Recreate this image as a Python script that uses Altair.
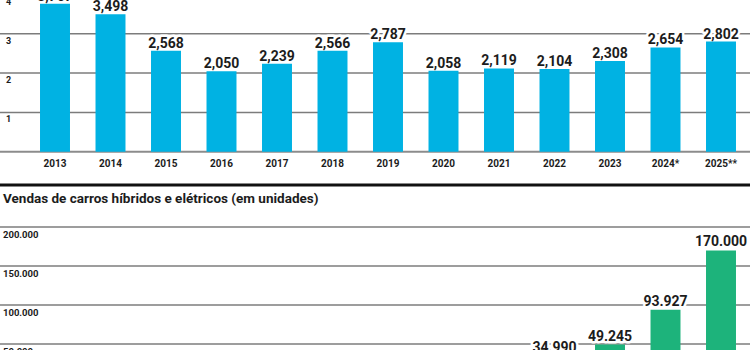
import altair as alt
import pandas as pd

# ---- data ----
years_top = ["2013", "2014", "2015", "2016", "2017", "2018", "2019",
             "2020", "2021", "2022", "2023", "2024*", "2025**"]
sales_top = [3.767, 3.498, 2.568, 2.050, 2.239, 2.566, 2.787,
             2.058, 2.119, 2.104, 2.308, 2.654, 2.802]
ticks_top = [1, 2, 3, 4]

years_bottom = ["2012", "2013", "2014", "2015", "2016", "2017", "2018",
                "2019", "2020", "2021", "2022", "2023", "2024"]
sales_bottom = [117, 491, 855, 846, 1091, 3296, 3970,
                11858, 19745, 34990, 49245, 93927, 170000]
ticks_bottom = [50000, 100000, 150000, 200000]

title_bottom = "Vendas de carros híbridos e elétricos (em unidades)"

# ---- tables ----
top_df = pd.DataFrame({
    "ano": years_top,
    "v": sales_top,
    "lbl": [f"{v:.3f}".replace(".", ",") for v in sales_top],
})
top_ticks = pd.DataFrame({"v": ticks_top, "lbl": [str(t) for t in ticks_top]})
bot_df = pd.DataFrame({
    "ano": years_bottom,
    "v": sales_bottom,
    "lbl": [f"{v:,}".replace(",", ".") for v in sales_bottom],
})
bot_ticks = pd.DataFrame({"v": ticks_bottom,
                          "lbl": [f"{t:,}".replace(",", ".") for t in ticks_bottom]})

NUM_FONT = "Roboto"
TITLE_FONT = "Roboto"
TXT = "#1c1c1c"
GRID = "#7c7c7c"

x_top = alt.X("ano:N", sort=years_top, axis=None,
              scale=alt.Scale(domain=years_top, range=[27.25, 748.75],
                              paddingInner=0.46, paddingOuter=0.23))
y_top_scale = alt.Scale(domain=[0, 4], range=[151.7, -5.5], nice=False, zero=True)

x_bot = alt.X("ano:N", sort=years_bottom, axis=None,
              scale=alt.Scale(domain=years_bottom, range=[27.25, 748.75],
                              paddingInner=0.46, paddingOuter=0.23))
y_bot_scale = alt.Scale(domain=[0, 200000], range=[383, 227], nice=False, zero=True)

# ---- top panel ----
t_grid = alt.Chart(top_ticks).mark_rule(color=GRID, strokeWidth=1.5).encode(
    x=alt.value(0), x2=alt.value(750),
    y=alt.Y("v:Q", scale=y_top_scale, axis=None))
t_base = alt.Chart(pd.DataFrame({"v": [0]})).mark_rule(color="#8c8c8c", strokeWidth=2).encode(
    x=alt.value(0), x2=alt.value(750),
    y=alt.Y("v:Q", scale=y_top_scale, axis=None))
t_ylab = alt.Chart(top_ticks).mark_text(
    align="left", baseline="top", dy=3, font=NUM_FONT, fontWeight="bold",
    fontSize=9, color=TXT).encode(
    x=alt.value(6), y=alt.Y("v:Q", scale=y_top_scale, axis=None), text="lbl:N")
t_halo = alt.Chart(top_df).mark_text(
    baseline="alphabetic", dy=-3, font=NUM_FONT, fontWeight="bold", fontSize=14,
    stroke="white", strokeWidth=5, strokeJoin="round", color="white").encode(
    x=x_top, y=alt.Y("v:Q", scale=y_top_scale, axis=None), text="lbl:N")
t_bars = alt.Chart(top_df).mark_bar(color="#00b2e3").encode(
    x=x_top, y=alt.Y("v:Q", scale=y_top_scale, axis=None))
t_lab = alt.Chart(top_df).mark_text(
    baseline="alphabetic", dy=-3, font=NUM_FONT, fontWeight="bold", fontSize=14,
    color=TXT).encode(
    x=x_top, y=alt.Y("v:Q", scale=y_top_scale, axis=None), text="lbl:N")
t_xlab = alt.Chart(top_df).mark_text(
    baseline="alphabetic", font=NUM_FONT, fontWeight="bold", fontSize=10,
    color=TXT).encode(x=x_top, y=alt.value(167), text="ano:N")

top = alt.layer(t_grid, t_base, t_ylab, t_halo, t_bars, t_lab, t_xlab)

# ---- separator and title ----
one = pd.DataFrame({"a": [0]})
sep = alt.Chart(one).mark_rule(color="#111111", strokeWidth=3).encode(
    x=alt.value(0), x2=alt.value(750), y=alt.value(185))
ttl = alt.Chart(one).mark_text(
    align="left", baseline="alphabetic", font=TITLE_FONT, fontWeight="bold",
    fontSize=13.5, color=TXT).encode(
    x=alt.value(3), y=alt.value(203), text=alt.value(title_bottom))

# ---- bottom panel ----
b_grid = alt.Chart(bot_ticks).mark_rule(color=GRID, strokeWidth=1.5).encode(
    x=alt.value(0), x2=alt.value(750),
    y=alt.Y("v:Q", scale=y_bot_scale, axis=None))
b_ylab = alt.Chart(bot_ticks).mark_text(
    align="left", baseline="top", dy=3, font=NUM_FONT, fontWeight="bold",
    fontSize=9.5, color=TXT).encode(
    x=alt.value(3), y=alt.Y("v:Q", scale=y_bot_scale, axis=None), text="lbl:N")
b_halo = alt.Chart(bot_df).mark_text(
    baseline="alphabetic", dy=-4, font=NUM_FONT, fontWeight="bold", fontSize=14,
    stroke="white", strokeWidth=5, strokeJoin="round", color="white").encode(
    x=x_bot, y=alt.Y("v:Q", scale=y_bot_scale, axis=None), text="lbl:N")
b_bars = alt.Chart(bot_df).mark_bar(color="#1db37b").encode(
    x=x_bot, y=alt.Y("v:Q", scale=y_bot_scale, axis=None))
b_lab = alt.Chart(bot_df).mark_text(
    baseline="alphabetic", dy=-4, font=NUM_FONT, fontWeight="bold", fontSize=14,
    color=TXT).encode(
    x=x_bot, y=alt.Y("v:Q", scale=y_bot_scale, axis=None), text="lbl:N")

bottom = alt.layer(b_grid, b_ylab, b_halo, b_bars, b_lab)

chart = alt.layer(top, sep, ttl, bottom).resolve_scale(
    x="independent", y="independent"
).properties(
    width=750, height=350, padding=0,
    autosize=alt.AutoSizeParams(type="none"),
    background="white",
).configure_view(stroke=None)

chart.save("out.html", embed_options={"renderer": "svg", "actions": False})
